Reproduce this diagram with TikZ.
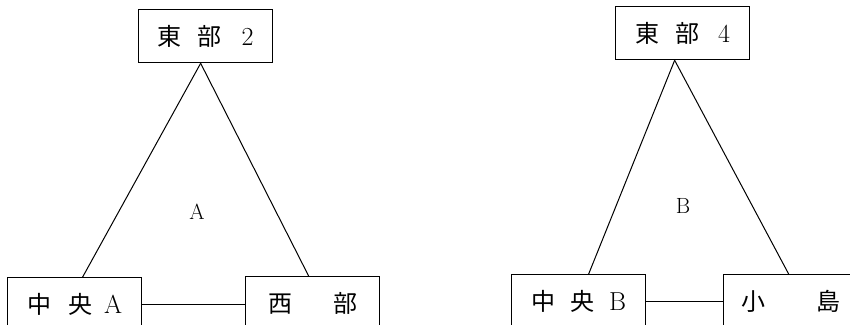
\documentclass[tikz,border=0pt]{standalone}
\usepackage{fontspec}
\newfontfamily\cjk{Noto Sans CJK JP}
\usetikzlibrary{calc}
\begin{document}
\begin{tikzpicture}[x=1pt,y=-1pt,
  box/.style={draw, line width=1.3pt, minimum width=134pt, minimum height=53pt, inner sep=0pt, anchor=north west, font=\fontsize{24}{28}\selectfont},
  lat/.style={},
  link/.style={line width=1pt},
  lbl/.style={font=\fontsize{22}{24}\selectfont}]
\useasboundingbox (0,0) rectangle (850,324);
% left group
\node[box] (e2) at (138,9) {\cjk 東\hspace{16pt}部\hspace{20pt}\rmfamily\fontsize{26}{28}\selectfont 2};
\node[box] (cA) at (7,277) {\cjk 中\hspace{17pt}央\hspace{12pt}\rmfamily\fontsize{26}{28}\selectfont A};
\node[box] (w) at (245,276) {\cjk 西\hspace{41pt}部};
\node[lbl] (la) at (197,212) {A};
\draw[link] ($(e2.south)+(-5,0)$) -- ($(cA.north)+(8,0)$);
\draw[link] ($(e2.south)+(-5,0)$) -- ($(w.north)+(-4,0)$);
\draw[link] (cA.east) -- (cA.east -| w.west);
% right group
\node[box] (e4) at (615,6) {\cjk 東\hspace{16pt}部\hspace{19pt}\rmfamily\fontsize{26}{28}\selectfont 4};
\node[box] (cB) at (511,274) {\cjk 中\hspace{15pt}央\hspace{15pt}\rmfamily\fontsize{26}{28}\selectfont B};
\node[box] (k) at (723,274) {\cjk 小\hspace{51pt}島};
\node[lbl] (lb) at (683,206) {B};
\draw[link] ($(e4.south)+(-8,0)$) -- ($(cB.north)+(10,0)$);
\draw[link] ($(e4.south)+(-8,0)$) -- ($(k.north)+(-2,0)$);
\draw[link] (cB.east) -- (cB.east -| k.west);
\end{tikzpicture}
\end{document}
